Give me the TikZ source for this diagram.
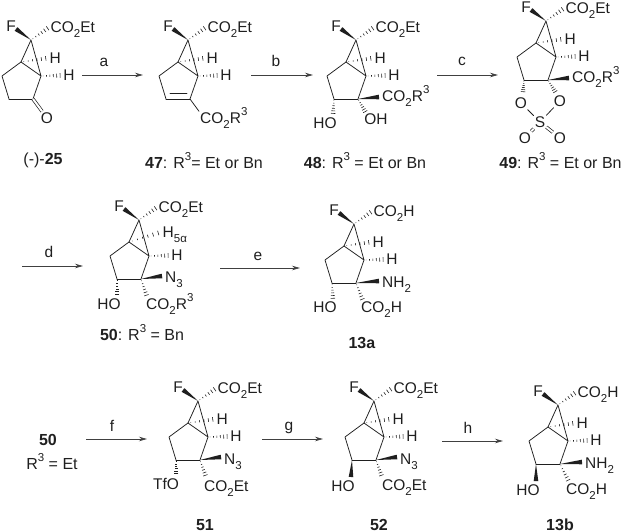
\documentclass[tikz,border=0pt]{standalone}
\usepackage{fontspec}
\setmainfont{Liberation Sans}
\usetikzlibrary{calc,arrows.meta}
\definecolor{ink}{gray}{0.12}
\newcommand\dn[1]{\raisebox{-.3em}{\fontsize{11.5}{12}\selectfont #1}}
\newcommand\up[1]{\raisebox{.5em}{\fontsize{11.5}{12}\selectfont #1}}
\newcommand\hashbond[2]{\foreach \t/\w in {.10/.3,.26/.7,.42/1.1,.58/1.5,.74/1.9,.90/2.3}{\draw[hashline] ($(#1)!\t!(#2)!\w pt!90:(#2)$) -- ($(#1)!\t!(#2)!\w pt!-90:(#2)$);}}
\newcommand\wedgebond[2]{\fill[ink] (#1) -- ($(#2)!2.3pt!90:(#1)$) -- ($(#2)!2.3pt!-90:(#1)$) -- cycle;}
\tikzset{
  bondline/.style={draw=ink,line width=.75pt,line join=round,line cap=round},
  hashline/.style={draw=ink,line width=.6pt},
  dbl/.style={draw=ink,line width=.7pt,double=white,double distance=2pt},
  txt/.style={font=\fontsize{15.5}{18}\selectfont,text=ink,inner sep=1pt,text height=11pt,text depth=0pt},
  captxt/.style={txt,font=\fontsize{16}{18}\selectfont},
  reagent/.style={txt},
  rxn/.style={draw=ink!85,line width=.75pt,-{Stealth[length=8pt,width=4.5pt]}},
}
% id, x, y, acid text, first H text, first H west position
\newcommand\cage[6]{%
  \begin{scope}[shift={(#2,#3)}]
    \coordinate (#1-a) at (0,0);
    \coordinate (#1-b) at (-10,22);
    \coordinate (#1-c) at (10,36);
    \coordinate (#1-d) at (-29,36);
    \coordinate (#1-e) at (-22,59);
    \coordinate (#1-g) at (2,59);
    \coordinate (#1-fw) at (-15,-11);
    \node[txt] (#1-F) at (-20,-14) {F};
    \node[txt,anchor=west] (#1-acid) at (18.5,-13) {#4};
    \node[txt,anchor=west] (#1-H1) at (#6) {#5};
    \node[txt] (#1-H2) at (38,35.5) {H};
    \draw[bondline] (#1-a) -- (#1-b) -- (#1-c) -- cycle;
    \draw[bondline] (#1-b) -- (#1-d) -- (#1-e);
    \draw[bondline] (#1-c) -- (#1-g);
    \wedgebond{#1-a}{#1-fw}
    \hashbond{#1-a}{#1-acid.west}
    \hashbond{#1-b}{#1-H1.west}
    \hashbond{#1-c}{#1-H2.west}
  \end{scope}}
\begin{document}
\begin{tikzpicture}[x=1pt,y=-1pt]
\useasboundingbox (0,0) rectangle (625,532);
% ---------- (-)-25
\cage{m}{31}{40}{CO\dn{2}Et}{H}{17.5,18}
\node[txt] (mO) at (47,118) {O};
\draw[bondline] (m-e) -- (m-g);
\draw[dbl] (m-g) -- (mO);
\node[captxt] (l25) at (43,159) {(-)-\textbf{25}};
% ---------- 47
\cage{n}{188}{40}{CO\dn{2}Et}{H}{17.5,18}
\draw[bondline] (n-e) -- (n-g);
\coordinate (nu) at (170,93.5);
\coordinate (nv) at (187,93.5);
\draw[bondline] (nu) -- (nv);
\node[txt,anchor=west] (nR) at (199,118) {CO\dn{2}R\up{3}};
\draw[bondline] (n-g) -- (nR.north west);
\node[captxt] (l47) at (204,163) {\textbf{47}: R\up{3}= Et or Bn};
% ---------- 48
\cage{p}{356}{40}{CO\dn{2}Et}{H}{17.5,18}
\draw[bondline] (p-e) -- (p-g);
\node[txt,anchor=west] (pR) at (381,96) {CO\dn{2}R\up{3}};
\coordinate (pw) at (379,97);
\wedgebond{p-g}{pw}
\node[txt] (pOH) at (376,119) {OH};
\node[txt] (pHO) at (325,123) {HO};
\coordinate (ph1) at (366,113);
\coordinate (ph2) at (333,115);
\hashbond{p-g}{ph1}
\hashbond{p-e}{ph2}
\node[captxt] (l48) at (365,163) {\textbf{48}: R\up{3} = Et or Bn};
% ---------- 49
\cage{q}{546}{21}{CO\dn{2}Et}{H}{17.5,18}
\draw[bondline] (q-e) -- (q-g);
\node[txt,anchor=west] (qR) at (571,77) {CO\dn{2}R\up{3}};
\coordinate (qw) at (569,78);
\wedgebond{q-g}{qw}
\node[txt] (qO1) at (521,103) {O};
\node[txt] (qO2) at (560,101) {O};
\node[txt] (qS) at (540,122) {S};
\node[txt] (qO3) at (525,138) {O};
\node[txt] (qO4) at (560,138) {O};
\coordinate (qh1) at (523,93);
\coordinate (qh2) at (556,93);
\hashbond{q-e}{qh1}
\hashbond{q-g}{qh2}
\draw[bondline] (qO1) -- (qS);
\draw[bondline] (qO2) -- (qS);
\draw[dbl] (qS) -- (qO3);
\draw[dbl] (qS) -- (qO4);
\node[captxt] (l49) at (560.5,163) {\textbf{49}: R\up{3} = Et or Bn};
% ---------- 50
\cage{r}{139}{220}{CO\dn{2}Et}{H\dn{5α}}{22.5,12}
\draw[bondline] (r-e) -- (r-g);
\node[txt,anchor=west] (rN) at (164,277) {N\dn{3}};
\coordinate (rw) at (162,276);
\wedgebond{r-g}{rw}
\node[txt,anchor=west] (rR) at (145,304) {CO\dn{2}R\up{3}};
\node[txt] (rHO) at (109,304) {HO};
\coordinate (rh1) at (147,297);
\coordinate (rh2) at (117,296);
\hashbond{r-g}{rh1}
\hashbond{r-e}{rh2}
\node[captxt] (l50) at (142,335) {\textbf{50}: R\up{3} = Bn};
% ---------- 13a
\cage{s}{354}{224}{CO\dn{2}H}{H}{17.5,18}
\draw[bondline] (s-e) -- (s-g);
\node[txt,anchor=west] (sN) at (381,282) {NH\dn{2}};
\coordinate (sw) at (379,281);
\wedgebond{s-g}{sw}
\node[txt,anchor=west] (sR) at (360,307) {CO\dn{2}H};
\node[txt] (sHO) at (325,307) {HO};
\coordinate (sh1) at (363,301);
\coordinate (sh2) at (333,300);
\hashbond{s-g}{sh1}
\hashbond{s-e}{sh2}
\node[captxt] (l13a) at (362,343) {\textbf{13a}};
% ---------- 50 R3 = Et
\node[captxt] (t50) at (48,440) {\textbf{50}};
\node[captxt] (tR) at (52,464) {R\up{3} = Et};
% ---------- 51
\cage{u}{198}{401}{CO\dn{2}Et}{H}{17.5,18}
\draw[bondline] (u-e) -- (u-g);
\node[txt,anchor=west] (uN) at (223,459) {N\dn{3}};
\coordinate (uw) at (221,457);
\wedgebond{u-g}{uw}
\node[txt,anchor=west] (uR) at (203,486) {CO\dn{2}Et};
\node[txt] (uTf) at (166,484) {TfO};
\coordinate (uh1) at (206,477);
\coordinate (uh2) at (176,475);
\hashbond{u-g}{uh1}
\hashbond{u-e}{uh2}
\node[captxt] (l51) at (205,524.5) {\textbf{51}};
% ---------- 52
\cage{v}{374}{401}{CO\dn{2}Et}{H}{17.5,18}
\draw[bondline] (v-e) -- (v-g);
\node[txt,anchor=west] (vN) at (399,459) {N\dn{3}};
\coordinate (vw) at (397,457);
\wedgebond{v-g}{vw}
\node[txt,anchor=west] (vR) at (381,485) {CO\dn{2}Et};
\node[txt] (vHO) at (343,486) {HO};
\coordinate (vh1) at (382,477);
\coordinate (vw2) at (351,477);
\hashbond{v-g}{vh1}
\wedgebond{v-e}{vw2}
\node[captxt] (l52) at (379,524.5) {\textbf{52}};
% ---------- 13b
\cage{w}{558}{405}{CO\dn{2}H}{H}{17.5,18}
\draw[bondline] (w-e) -- (w-g);
\node[txt,anchor=west] (wN) at (584,463) {NH\dn{2}};
\coordinate (ww) at (582,462);
\wedgebond{w-g}{ww}
\node[txt,anchor=west] (wR) at (565,489) {CO\dn{2}H};
\node[txt] (wHO) at (528,490) {HO};
\coordinate (wh1) at (569,482);
\coordinate (ww2) at (536,481);
\hashbond{w-g}{wh1}
\wedgebond{w-e}{ww2}
\node[captxt] (l13b) at (560,524.5) {\textbf{13b}};
% ---------- arrows
\coordinate (a0) at (82,75);  \coordinate (a1) at (143,75);
\coordinate (b0) at (251,75); \coordinate (b1) at (313,75);
\coordinate (c0) at (437,75); \coordinate (c1) at (498,75);
\coordinate (d0) at (22,266); \coordinate (d1) at (83,266);
\coordinate (e0) at (220,268);\coordinate (e1) at (300,268);
\coordinate (f0) at (86,439); \coordinate (f1) at (147,439);
\coordinate (g0) at (262,439);\coordinate (g1) at (323,439);
\coordinate (h0) at (442,441);\coordinate (h1) at (503,441);
\draw[rxn] (a0) -- (a1); \node[reagent] (la) at (104,61) {a};
\draw[rxn] (b0) -- (b1); \node[reagent] (lb) at (276,61) {b};
\draw[rxn] (c0) -- (c1); \node[reagent] (lc) at (462,60) {c};
\draw[rxn] (d0) -- (d1); \node[reagent] (ld) at (49,252) {d};
\draw[rxn] (e0) -- (e1); \node[reagent] (le) at (258,255) {e};
\draw[rxn] (f0) -- (f1); \node[reagent] (lf) at (112,426) {f};
\draw[rxn] (g0) -- (g1); \node[reagent] (lg) at (289,425) {g};
\draw[rxn] (h0) -- (h1); \node[reagent] (lh) at (468,428) {h};
\end{tikzpicture}
\end{document}
